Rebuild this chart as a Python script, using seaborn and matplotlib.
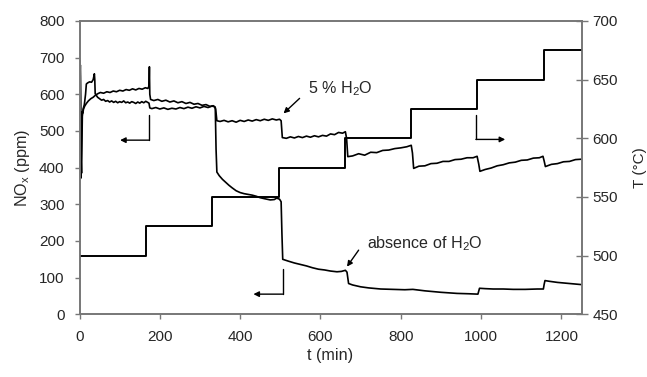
import matplotlib
matplotlib.use("Agg")
import matplotlib.pyplot as plt
import numpy as np
import pandas as pd
import seaborn as sns

# ---- data -------------------------------------------------------------
# NOx outlet concentration (ppm) vs time (min), feed with 5 % H2O
nox_h2o = [
    (0, 530), (1, 600), (2, 680), (3, 560), (4, 420), (5, 385), (6, 470), (7, 540),
    (9, 560), (12, 572), (15, 600), (17, 628), (20, 631), (25, 634), (30, 633),
    (34, 640), (37, 656), (38, 640), (39, 602), (45, 592), (50, 588), (55, 584),
    (60, 586), (65, 581), (70, 583), (75, 579), (80, 582), (85, 578), (90, 581),
    (95, 577), (100, 580), (105, 578), (110, 582), (115, 577), (120, 579), (125, 576),
    (130, 580), (135, 578), (140, 575), (145, 579), (150, 576), (155, 580), (160, 577),
    (165, 581), (170, 578), (173, 576), (175, 563), (180, 561), (190, 564), (200, 560),
    (210, 563), (220, 559), (230, 562), (240, 560), (250, 564), (260, 561), (270, 565),
    (280, 562), (290, 566), (300, 563), (310, 567), (320, 564), (330, 568), (336, 566),
    (339, 560), (342, 528), (350, 526), (360, 529), (370, 525), (380, 528), (390, 524),
    (400, 529), (410, 526), (420, 530), (430, 527), (440, 531), (450, 528), (460, 532),
    (470, 529), (480, 533), (490, 530), (498, 532), (502, 528), (505, 482), (515, 480),
    (525, 484), (535, 481), (545, 485), (555, 482), (565, 486), (575, 483), (585, 487),
    (595, 484), (605, 488), (615, 486), (625, 492), (635, 490), (645, 496), (655, 494),
    (662, 498), (665, 480), (668, 430), (680, 432), (695, 438), (710, 434), (725, 442),
    (740, 441), (755, 447), (770, 448), (785, 452), (800, 454), (815, 457), (826, 461),
    (829, 440), (832, 398), (845, 404), (860, 405), (875, 411), (890, 412), (905, 417),
    (920, 417), (935, 422), (950, 423), (965, 427), (980, 427), (990, 431), (994, 410),
    (997, 390), (1010, 395), (1025, 399), (1040, 405), (1055, 408), (1070, 413),
    (1085, 415), (1100, 420), (1115, 421), (1130, 426), (1145, 427), (1154, 431),
    (1157, 418), (1160, 403), (1175, 409), (1190, 411), (1205, 416), (1220, 417),
    (1235, 422), (1250, 423),
]

# NOx outlet concentration (ppm) vs time (min), dry feed
nox_dry = [
    (0, 560), (1, 693), (2, 650), (3, 470), (4, 372), (5, 500), (6, 552), (8, 548),
    (10, 560), (13, 568), (17, 575), (22, 582), (28, 588), (34, 592), (40, 598),
    (46, 602), (52, 605), (60, 603), (68, 607), (76, 605), (84, 609), (92, 607),
    (100, 611), (108, 609), (116, 613), (124, 611), (132, 615), (140, 612), (148, 616),
    (156, 614), (164, 618), (170, 616), (173, 622), (174, 675), (175, 600), (177, 586),
    (185, 583), (195, 586), (205, 581), (215, 584), (225, 579), (235, 582), (245, 577),
    (255, 580), (265, 575), (275, 578), (285, 573), (295, 575), (305, 570), (315, 572),
    (325, 567), (333, 569), (338, 565), (340, 450), (342, 388), (348, 378), (356, 368),
    (364, 360), (372, 352), (380, 345), (390, 337), (400, 332), (410, 329), (420, 327),
    (430, 325), (440, 322), (450, 318), (462, 315), (475, 312), (485, 313), (491, 317),
    (498, 314), (502, 307), (504, 220), (506, 150), (520, 145), (535, 140), (550, 136),
    (565, 132), (580, 127), (595, 123), (610, 121), (625, 118), (641, 116), (652, 117),
    (662, 120), (666, 115), (670, 84), (680, 80), (700, 75), (720, 72), (750, 69),
    (780, 68), (810, 67), (830, 68), (860, 64), (900, 60), (940, 57), (970, 56),
    (992, 55), (994, 63), (996, 71), (1010, 70), (1030, 69), (1055, 69), (1080, 68),
    (1110, 68), (1140, 69), (1155, 69), (1157, 82), (1159, 92), (1170, 90), (1190, 87),
    (1210, 85), (1230, 83), (1250, 81),
]

# Temperature programme: step start times (min) and set points (degC)
temp_time = [0, 165, 331, 496, 662, 826, 990, 1156, 1250]
temp_value = [500, 525, 550, 575, 600, 625, 650, 675, 675]

x_ticks = [0, 200, 400, 600, 800, 1000, 1200]
nox_ticks = [0, 100, 200, 300, 400, 500, 600, 700, 800]
temp_ticks = [450, 500, 550, 600, 650, 700]

# ---- style ------------------------------------------------------------
sns.set_style("white")
plt.rcParams["font.family"] = ["Liberation Sans", "DejaVu Sans"]
plt.rcParams["mathtext.fontset"] = "custom"
plt.rcParams["mathtext.rm"] = "Liberation Sans"
plt.rcParams["mathtext.it"] = "Liberation Sans:italic"
plt.rcParams["mathtext.default"] = "regular"

GREY = "#777777"
FS = 11
FS_NOTE = 11.6

df_h2o = pd.DataFrame(nox_h2o, columns=["t", "nox"])
df_dry = pd.DataFrame(nox_dry, columns=["t", "nox"])
df_temp = pd.DataFrame({"t": temp_time, "T": temp_value})

fig = plt.figure(figsize=(6.47, 3.77), dpi=100)
ax = fig.add_axes([0.1229, 0.1663, 0.8988 - 0.1229, 0.9443 - 0.1663])
ax2 = ax.twinx()

sns.lineplot(data=df_h2o, x="t", y="nox", ax=ax, color="black", lw=1.2,
             estimator=None, sort=False)
sns.lineplot(data=df_dry, x="t", y="nox", ax=ax, color="black", lw=1.2,
             estimator=None, sort=False)
sns.lineplot(data=df_temp, x="t", y="T", ax=ax2, color="black", lw=1.4,
             estimator=None, sort=False, drawstyle="steps-post")

ax.set_xlim(0, 1250)
ax.set_ylim(0, 800)
ax2.set_ylim(450, 700)
ax.set_xticks(x_ticks)
ax.set_yticks(nox_ticks)
ax2.set_yticks(temp_ticks)

for a in (ax, ax2):
    for s in a.spines.values():
        s.set_color(GREY)
        s.set_linewidth(1.2)

ax.tick_params(axis="y", left=True, right=False, direction="out", length=3.6,
               width=1, color=GREY, pad=7.2, labelsize=FS)
ax.tick_params(axis="x", bottom=True, direction="out", length=3.6,
               width=1, color=GREY, pad=8.0, labelsize=FS)
ax2.tick_params(axis="y", right=True, left=False, direction="inout", length=8,
                width=1, color=GREY, pad=4.0, labelsize=FS)

ax.set_xlabel("t (min)", fontsize=FS_NOTE)
ax.set_ylabel("NO$_x$ (ppm)", fontsize=FS_NOTE)
ax2.set_ylabel("T (°C)", fontsize=FS)
ax.xaxis.set_label_coords(0.5, -0.115)
ax.yaxis.set_label_coords(-0.094, 0.5)
ax2.yaxis.set_label_coords(1.102, 0.5)

# ---- annotations -------------------------------------------------------
arrow = dict(arrowstyle="-|>", color="black", lw=1.0, mutation_scale=8,
             shrinkA=0, shrinkB=0)

ax.annotate("", xy=(508, 548), xytext=(548, 589), arrowprops=arrow)
ax.text(570, 615, "5 % H$_2$O", fontsize=FS_NOTE, va="center", ha="left")

ax.annotate("", xy=(666, 130), xytext=(695, 175), arrowprops=arrow)
ax.text(716, 192, "absence of H$_2$O", fontsize=FS_NOTE, va="center", ha="left")

# axis-pointer arrows: which curve belongs to which axis
ax.plot([174, 174], [543, 475], color="black", lw=1.0)
ax.annotate("", xy=(101, 475), xytext=(174, 475), arrowprops=arrow)
ax.plot([506, 506], [124, 55], color="black", lw=1.0)
ax.annotate("", xy=(433, 55), xytext=(506, 55), arrowprops=arrow)
ax.plot([987, 987], [543, 477], color="black", lw=1.0)
ax.annotate("", xy=(1060, 477), xytext=(987, 477), arrowprops=arrow)

fig.savefig("out.png", dpi=100)
